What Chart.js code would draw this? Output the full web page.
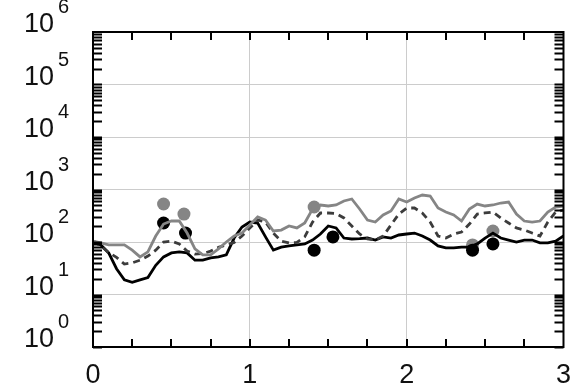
<!DOCTYPE html>
<html>
<head>
<meta charset="utf-8">
<script src="https://cdn.jsdelivr.net/npm/chart.js@4/dist/chart.umd.min.js"></script>
<style>
  html, body { margin: 0; padding: 0; background: #fff; }
  canvas { display: block; }
</style>
</head>
<body>
<canvas id="chart" width="583" height="390"></canvas>
<script>
// sample positions along x (read every 0.05)
const xValues = [0, 0.05, 0.1, 0.15, 0.2, 0.25, 0.3, 0.35, 0.4, 0.45,
  0.5, 0.55, 0.6, 0.65, 0.7, 0.75, 0.8, 0.85, 0.9, 0.95,
  1, 1.05, 1.1, 1.15, 1.2, 1.25, 1.3, 1.35, 1.4, 1.45,
  1.5, 1.55, 1.6, 1.65, 1.7, 1.75, 1.8, 1.85, 1.9, 1.95,
  2, 2.05, 2.1, 2.15, 2.2, 2.25, 2.3, 2.35, 2.4, 2.45,
  2.5, 2.55, 2.6, 2.65, 2.7, 2.75, 2.8, 2.85, 2.9, 2.95, 3];

const blackLine = [104, 88, 62, 31, 19, 17, 19, 21, 36, 52,
  62, 65, 62, 45, 45, 50, 52, 57, 119, 193,
  240, 230, 125, 70, 80, 84, 88, 92, 109, 142,
  202, 185, 119, 114, 116, 119, 109, 125, 119, 136,
  142, 148, 130, 109, 84, 77, 77, 80, 80, 92,
  119, 148, 119, 109, 100, 109, 109, 96, 96, 104, 130];

const dashedLine = [104, 84, 63, 51, 38, 40, 45, 54, 70, 100,
  104, 92, 67, 59, 60, 67, 79, 88, 98, 130,
  185, 262, 240, 148, 104, 96, 98, 125, 240, 357,
  357, 350, 287, 202, 142, 114, 109, 130, 211, 341,
  444, 444, 357, 240, 130, 119, 142, 155, 220, 341,
  357, 373, 287, 230, 185, 169, 148, 130, 240, 373, 407];

const grayLine = [104, 96, 88, 88, 88, 70, 52, 65, 130, 220,
  251, 251, 148, 74, 57, 57, 74, 100, 130, 148,
  211, 300, 262, 162, 169, 202, 185, 230, 425, 507,
  485, 507, 604, 659, 425, 262, 240, 327, 389, 659,
  578, 689, 785, 752, 444, 373, 327, 251, 425, 529,
  485, 507, 553, 578, 341, 251, 240, 251, 373, 464, 485];

const blackDotX = [0.45, 0.59, 1.41, 1.53, 2.42, 2.55];
const blackDots = [230, 148, 70, 125, 70, 92];
const grayDotX = [0.45, 0.58, 1.41, 2.42, 2.55];
const grayDots = [530, 341, 464, 88, 162];

const xTickValues = [0, 1, 2, 3];
const yDecades = [0, 1, 2, 3, 4, 5, 6];

const FONT = '"Liberation Sans", Arial, sans-serif';

function pairs(xs, ys) {
  return ys.map((v, i) => ({ x: xs[i], y: v }));
}

// frame, inward ticks on all four sides, and 10^n labels
const framePlugin = {
  id: 'frame',
  afterDraw(chart) {
    const { ctx, chartArea: a, scales } = chart;
    const x = scales.x, y = scales.y;
    ctx.save();
    ctx.strokeStyle = '#000';
    ctx.lineWidth = 2;
    ctx.beginPath();
    for (let v = 0.25; v < 3; v += 0.25) {
      const px = Math.round(x.getPixelForValue(v));
      ctx.moveTo(px, a.bottom); ctx.lineTo(px, a.bottom - 8);
      ctx.moveTo(px, a.top); ctx.lineTo(px, a.top + 8);
    }
    for (let n = 0; n < 6; n++) {
      for (let m = 1; m <= 9; m++) {
        const py = Math.round(y.getPixelForValue(m * Math.pow(10, n))) + 0.5;
        ctx.moveTo(a.left, py); ctx.lineTo(a.left + 9, py);
        ctx.moveTo(a.right, py); ctx.lineTo(a.right - 9, py);
      }
    }
    ctx.stroke();
    ctx.strokeRect(a.left, a.top, a.right - a.left, a.bottom - a.top);

    ctx.fillStyle = '#111';
    ctx.textBaseline = 'alphabetic';
    yDecades.forEach(n => {
      const py = y.getPixelForValue(Math.pow(10, n));
      ctx.font = '27px ' + FONT;
      ctx.textAlign = 'right';
      ctx.fillText('10', 54, py);
      ctx.font = '20px ' + FONT;
      ctx.textAlign = 'left';
      ctx.fillText(String(n), 58, py - 19);
    });
    ctx.restore();
  }
};

const ctx = document.getElementById('chart').getContext('2d');
new Chart(ctx, {
  type: 'line',
  data: {
    datasets: [{
      label: 'gray',
      data: pairs(xValues, grayLine),
      borderColor: '#858585',
      borderWidth: 2.8,
      pointRadius: 0,
      order: 1
    }, {
      label: 'dashed',
      data: pairs(xValues, dashedLine),
      borderColor: '#3c3c3c',
      borderWidth: 2.8,
      borderDash: [7, 5],
      pointRadius: 0,
      order: 2
    }, {
      label: 'black',
      data: pairs(xValues, blackLine),
      borderColor: '#000',
      borderWidth: 2.8,
      pointRadius: 0,
      order: 3
    }, {
      label: 'black dots',
      data: pairs(blackDotX, blackDots),
      showLine: false,
      pointRadius: 6.5,
      pointBorderWidth: 0,
      pointBackgroundColor: '#000',
      order: 4
    }, {
      label: 'gray dots',
      data: pairs(grayDotX, grayDots),
      showLine: false,
      pointRadius: 6.5,
      pointBorderWidth: 0,
      pointBackgroundColor: '#858585',
      order: 5
    }]
  },
  options: {
    responsive: false,
    animation: false,
    devicePixelRatio: 1,
    layout: { padding: { top: 32, right: 13, left: 0, bottom: 0 } },
    plugins: { legend: { display: false }, tooltip: { enabled: false } },
    elements: { line: { tension: 0, fill: false } },
    scales: {
      x: {
        type: 'linear',
        min: 0,
        max: 3,
        afterBuildTicks: scale => { scale.ticks = xTickValues.map(v => ({ value: v })); },
        afterFit: scale => { scale.height = 43; },
        ticks: {
          font: { family: FONT, size: 27 },
          color: '#111',
          padding: 12,
          maxRotation: 0,
          callback: v => String(v)
        },
        grid: {
          drawTicks: false,
          color: c => (c.tick && (c.tick.value === 0 || c.tick.value === 3)) ? 'rgba(0,0,0,0)' : '#cccccc',
          lineWidth: 1
        },
        border: { display: false }
      },
      y: {
        type: 'logarithmic',
        min: 1,
        max: 1e6,
        afterBuildTicks: scale => { scale.ticks = yDecades.map(n => ({ value: Math.pow(10, n), major: true })); },
        afterFit: scale => { scale.width = 93; },
        ticks: { display: false },
        grid: {
          drawTicks: false,
          color: c => (c.tick && (c.tick.value === 1 || c.tick.value === 1e6)) ? 'rgba(0,0,0,0)' : '#cccccc',
          lineWidth: 1
        },
        border: { display: false }
      }
    }
  },
  plugins: [framePlugin]
});
</script>
</body>
</html>
